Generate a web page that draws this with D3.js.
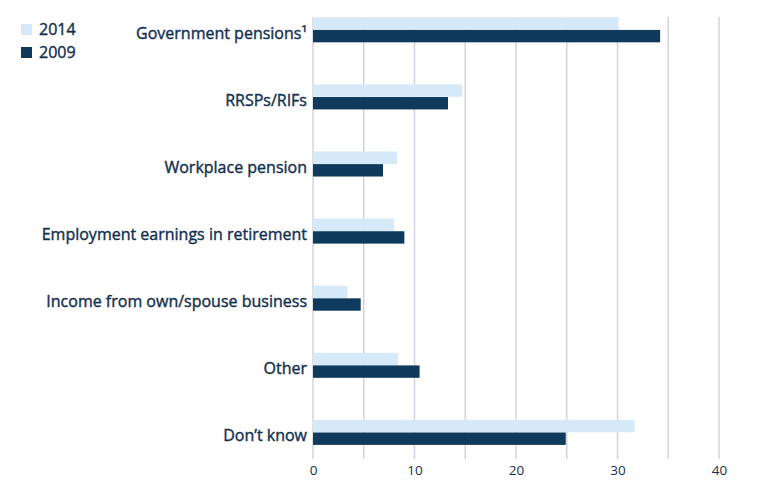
<!DOCTYPE html>
<html>
<head>
<meta charset="utf-8">
<script src="https://cdn.jsdelivr.net/npm/d3@7"></script>
<style>
  body { margin: 0; background: #fff; }
  text { font-family: "Open Sans", sans-serif; fill: #13304f; }
</style>
</head>
<body>
<div id="chart"></div>
<script>
const categories = [
  "Government pensions¹",
  "RRSPs/RIFs",
  "Workplace pension",
  "Employment earnings in retirement",
  "Income from own/spouse business",
  "Other",
  "Don’t know",
];
const years = ["2014", "2009"];
const values2014 = [30.1, 14.7, 8.3, 8.0, 3.4, 8.4, 31.7];
const values2009 = [34.2, 13.3, 6.9, 9.0, 4.7, 10.5, 24.9];
const xTicks = [0, 10, 20, 30, 40];

const colors = { "2014": "#d5e9f8", "2009": "#0f3a5c" };

const width = 771, height = 493;

const svg = d3
  .select("#chart")
  .append("svg")
  .attr("width", width)
  .attr("height", height);

// scales
const x = d3.scaleLinear().domain([0, 40]).range([313, 719]);
const y = d3
  .scaleBand()
  .domain(categories)
  .range([17.3, 444.9])
  .paddingInner(0.627)
  .paddingOuter(0);
const yInner = d3
  .scaleBand()
  .domain(years)
  .range([0, y.bandwidth()])
  .paddingInner(0.02);

const data = categories.map((c, i) => ({
  cat: c,
  vals: [
    { year: "2014", value: values2014[i] },
    { year: "2009", value: values2009[i] },
  ],
}));

// gridlines every 5
svg
  .append("g")
  .selectAll("line")
  .data(d3.range(0, 41, 5))
  .join("line")
  .attr("x1", (d) => x(d))
  .attr("x2", (d) => x(d))
  .attr("y1", 17)
  .attr("y2", 459)
  .attr("stroke", "#d3d3dd")
  .attr("stroke-width", 1.5);

// x axis labels
const xAxis = svg
  .append("g")
  .attr("transform", "translate(0, 462)")
  .call(d3.axisBottom(x).tickValues(xTicks).tickSize(0).tickPadding(3));
xAxis.select(".domain").remove();
xAxis
  .selectAll("text")
  .style("font-family", "Open Sans, sans-serif")
  .style("font-size", "13.5px")
  .attr("fill", "#13304f");

// bars
const groups = svg
  .append("g")
  .selectAll("g")
  .data(data)
  .join("g")
  .attr("transform", (d) => `translate(0, ${y(d.cat)})`);

groups
  .selectAll("rect")
  .data((d) => d.vals)
  .join("rect")
  .attr("x", x(0))
  .attr("y", (d) => yInner(d.year))
  .attr("width", (d) => x(d.value) - x(0))
  .attr("height", yInner.bandwidth())
  .attr("fill", (d) => colors[d.year]);

// category labels
svg
  .append("g")
  .selectAll("text")
  .data(categories)
  .join("text")
  .attr("x", 307)
  .attr("y", (d) => y(d) + y.bandwidth() / 2 + 3.5)
  .attr("dy", "0.35em")
  .attr("text-anchor", "end")
  .style("font-size", "16px")
  .style("stroke", "#13304f")
  .style("stroke-width", 0.4)
  .text((d) => d);

// legend
const legend = svg
  .append("g")
  .selectAll("g")
  .data(years)
  .join("g")
  .attr("transform", (d, i) => `translate(21, ${24 + i * 23})`);
legend
  .append("rect")
  .attr("width", 11)
  .attr("height", 11)
  .attr("fill", (d) => colors[d]);
legend
  .append("text")
  .attr("x", 18)
  .attr("y", 5.5)
  .attr("dy", "0.35em")
  .style("font-size", "16px")
  .style("stroke", "#13304f")
  .style("stroke-width", 0.4)
  .text((d) => d);
</script>
</body>
</html>
